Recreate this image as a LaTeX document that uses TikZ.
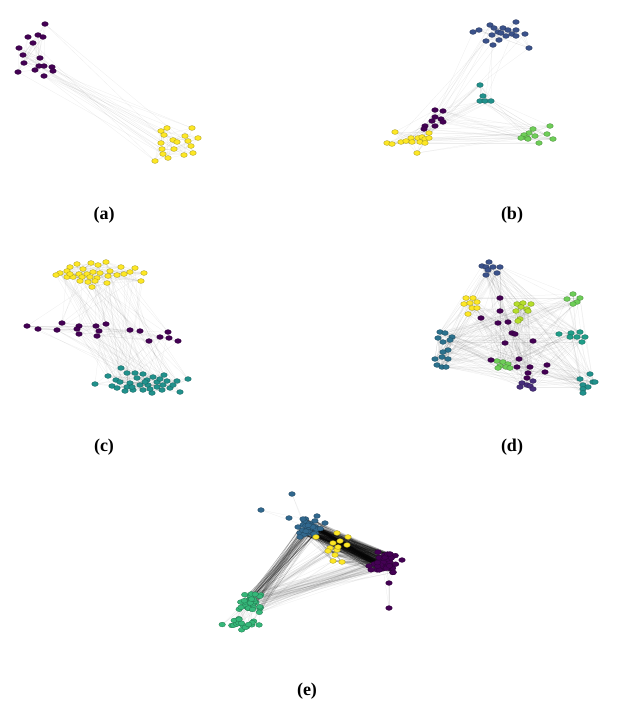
\documentclass[tikz,border=0pt]{standalone}
\usepackage{fontspec}
\setmainfont{Liberation Serif}
\definecolor{vpur}{HTML}{440154}
\definecolor{vind}{HTML}{472D7B}
\definecolor{vblu}{HTML}{3B528B}
\definecolor{vsteel}{HTML}{31688E}
\definecolor{vtealdk}{HTML}{2C728E}
\definecolor{vteal}{HTML}{21918C}
\definecolor{vteal2}{HTML}{1F9E89}
\definecolor{vgrn}{HTML}{35B779}
\definecolor{vgrn2}{HTML}{6ECE58}
\definecolor{vlime}{HTML}{B5DE2B}
\definecolor{vyel}{HTML}{FDE725}
\tikzset{
  edge/.style={line width=0.25pt, draw=black, draw opacity=0.08},
  edgedk/.style={line width=0.25pt, draw=black, draw opacity=0.16},
  nd/.style={fill=#1, draw=#1!65!black, line width=0.3pt},
  lab/.style={font=\bfseries\fontsize{18}{20}\selectfont, inner sep=0pt}
}
\newcommand\setpts[2]{\foreach \x/\y [count=\i] in {#2} {\coordinate (#1-\i) at (\x,\y);}}
\newcommand\randpts[7]{\foreach \i in {#2,...,#3} {\pgfmathsetmacro\xx{#4+#6*(rand+rand)/2}\pgfmathsetmacro\yy{#5+#7*(rand+rand)/2}\coordinate (#1-\i) at (\xx,\yy);}}
\newcommand\drawpts[3]{\foreach \i in {1,...,#2} {\path[nd=#3] (#1-\i) ellipse[x radius=3.3pt, y radius=2.4pt];}}
\newcommand\links[6]{\foreach \i in {1,...,#2}{\foreach \j in {1,...,#4}{\pgfmathtruncatemacro\ok{rnd<#5}\ifnum\ok=1 \draw[#6] (#1-\i) -- (#3-\j);\fi}}}
\begin{document}
\begin{tikzpicture}[x=1pt,y=-1pt]
\pgfmathsetseed{4242}
\useasboundingbox (0,0) rectangle (621,713);
% ---------- (a)
\setpts{AP}{45/24, 28/37, 38/35, 43/37, 33/43, 19/48, 23/55, 40/58, 24/63, 18/72, 35/70, 39/66, 44/66, 52/67, 53/71, 44/76}
\setpts{AY}{167/128, 161/131, 164/135, 192/128, 185/136, 198/138, 173/140, 177/142, 188/141, 161/143, 191/146, 162/149, 174/149, 163/154, 168/158, 184/155, 193/153, 155/161}
% ---------- (b)
\setpts{BB}{516/22, 490/25, 494/28, 503/28, 508/30, 516/30, 473/32, 479/30, 498/32, 492/35, 501/33, 512/34, 525/34, 506/36, 516/36, 486/41, 499/40, 493/45, 529/48}
\setpts{BT}{480/85, 483/96, 480/101, 485/101, 491/101}
\setpts{BP}{435/110, 443/111, 435/117, 441/119, 432/121, 443/122, 425/126, 424/129, 435/126}
\setpts{BY}{395/132, 387/143, 392/144, 401/142, 406/141, 411/138, 412/142, 418/138, 422/137, 429/133, 425/139, 429/138, 420/142, 425/143, 417/153}
\setpts{BG}{533/129, 550/126, 529/133, 524/135, 535/136, 547/134, 527/138, 521/138, 528/139, 553/139, 539/143}
% ---------- (c)
\setpts{CY}{77/264, 91/263, 98/265, 106/262, 70/267, 83/269, 121/267, 135/268, 60/273, 56/275, 67/271, 79/274, 87/274, 93/272, 100/273, 110/271, 117/275, 124/274, 130/272, 144/273, 67/277, 73/277, 82/277, 90/277, 97/278, 108/276, 88/282, 95/281, 92/287, 107/283, 141/281, 80/281, 70/274}
\setpts{CP}{27/326, 38/329, 62/323, 57/330, 79/326, 77/329, 79/334, 96/326, 99/331, 106/324, 97/336, 130/330, 140/331, 168/332, 149/341, 160/337, 169/338, 178/341}
\setpts{CT}{121/368, 108/376, 116/380, 127/373, 135/373, 143/374, 164/375, 188/379, 95/384, 112/386, 120/382, 130/383, 137/378, 147/380, 153/377, 157/382, 167/381, 177/381, 117/388, 127/387, 133/390, 143/390, 152/393, 162/390, 170/388, 180/392, 173/385, 148/385, 140/385, 132/387, 157/387, 163/385, 150/389, 145/382, 160/379, 125/391}
% ---------- (d)
\setpts{DB}{482/266, 489/262, 486/267, 493/267, 500/267, 488/270, 497/273, 486/275}
\setpts{DY}{466/298, 473/298, 464/304, 470/303, 477/302, 472/308, 477/308, 468/314}
\setpts{DL}{517/304, 523/303, 531/304, 521/307, 527/309, 516/311, 528/311, 520/319, 518/321}
\setpts{DG}{573/294, 567/299, 580/298, 577/302, 573/304}
\setpts{DT}{440/332, 445/333, 438/338, 452/337, 443/342, 450/340, 448/350, 443/352, 435/359, 442/357, 448/359, 437/365, 442/367, 446/367}
\setpts{DR}{559/334, 571/333, 580/332, 570/337, 577/337, 585/337, 582/342}
\setpts{DS}{580/379, 590/374, 593/382, 583/385, 588/387, 583/389, 583/393, 595/382}
\setpts{DM}{497/361, 503/362, 508/364, 500/366, 506/367, 498/368, 510/368}
\setpts{DP}{500/298, 500/311, 481/318, 498/323, 508/322, 512/333, 515/334, 505/343, 533/341, 491/360, 519/359, 517/367, 530/367, 547/365, 545/372, 528/373, 527/378}
\setpts{DI}{522/383, 527/385, 533/381, 520/387, 530/386, 533/389}
% ---------- (e)
\randpts{EP}{1}{45}{385}{563}{16}{13}
\setpts{EPo}{389/583, 389/608, 402/560, 369/566}
\randpts{EB}{1}{30}{310}{527}{12}{9}
\setpts{EBo}{292/494, 261/510, 289/518, 303/519, 317/516, 325/523, 298/527, 300/537}
\setpts{EY}{337/533, 348/537, 340/541, 333/543, 330/548, 337/550, 347/545, 335/555, 342/562, 333/561, 328/551, 338/547, 316/537}
\randpts{EG}{1}{35}{250}{603}{14}{10}
\randpts{EGs}{1}{20}{243}{624}{24}{11}
% ================= edges
% (a)
\links{AP}{16}{AP}{16}{0.18}{edge}
\links{AY}{18}{AY}{18}{0.15}{edge}
\links{AP}{16}{AY}{18}{0.06}{edge}
% (b)
\links{BB}{19}{BB}{19}{0.15}{edge}
\links{BP}{9}{BP}{9}{0.3}{edge}
\links{BY}{15}{BY}{15}{0.2}{edge}
\links{BG}{11}{BG}{11}{0.25}{edge}
\links{BT}{5}{BT}{5}{0.4}{edge}
\links{BB}{19}{BP}{9}{0.03}{edge}
\links{BB}{19}{BY}{15}{0.015}{edge}
\links{BB}{19}{BT}{5}{0.05}{edge}
\links{BT}{5}{BP}{9}{0.2}{edge}
\links{BT}{5}{BG}{11}{0.2}{edge}
\links{BT}{5}{BY}{15}{0.05}{edge}
\links{BP}{9}{BG}{11}{0.1}{edge}
\links{BY}{15}{BG}{11}{0.07}{edge}
\links{BP}{9}{BY}{15}{0.15}{edge}
% (c)
\links{CY}{33}{CY}{33}{0.1}{edge}
\links{CP}{18}{CP}{18}{0.12}{edge}
\links{CT}{36}{CT}{36}{0.1}{edge}
\links{CY}{33}{CP}{18}{0.035}{edge}
\links{CY}{33}{CT}{36}{0.025}{edge}
\links{CP}{18}{CT}{36}{0.05}{edge}
% (d)
\foreach \A/\nA in {DB/8, DY/8, DL/9, DG/5, DT/14, DR/7, DS/8, DM/7, DP/17, DI/6}{
  \foreach \B/\nB in {DB/8, DY/8, DL/9, DG/5, DT/14, DR/7, DS/8, DM/7, DP/17, DI/6}{
    \links{\A}{\nA}{\B}{\nB}{0.055}{edge}}}
\foreach \A/\nA in {DB/8, DY/8, DL/9, DG/5, DT/14, DR/7, DS/8, DM/7, DI/6}{
  \links{\A}{\nA}{\A}{\nA}{0.3}{edge}}
% (e)
\links{EP}{45}{EP}{45}{0.1}{edge}
\links{EB}{30}{EB}{30}{0.12}{edge}
\links{EG}{35}{EG}{35}{0.1}{edge}
\links{EGs}{20}{EG}{35}{0.06}{edge}
\links{EBo}{8}{EB}{30}{0.08}{edge}
\links{EPo}{4}{EP}{45}{0.05}{edge}
\draw[edge] (EPo-1) -- (EPo-2);
\links{EB}{30}{EP}{45}{0.35}{edgedk}
\links{EY}{13}{EP}{45}{0.35}{edgedk}
\links{EB}{30}{EY}{13}{0.2}{edgedk}
\links{EG}{35}{EB}{30}{0.1}{edgedk}
\links{EG}{35}{EP}{45}{0.05}{edge}
\links{EG}{35}{EY}{13}{0.06}{edge}
% ================= nodes
\drawpts{AP}{16}{vpur}\drawpts{AY}{18}{vyel}
\drawpts{BB}{19}{vblu}\drawpts{BT}{5}{vteal}\drawpts{BP}{9}{vpur}\drawpts{BY}{15}{vyel}\drawpts{BG}{11}{vgrn2}
\drawpts{CY}{33}{vyel}\drawpts{CP}{18}{vpur}\drawpts{CT}{36}{vteal}
\drawpts{DB}{8}{vblu}\drawpts{DY}{8}{vyel}\drawpts{DL}{9}{vlime}\drawpts{DG}{5}{vgrn2}
\drawpts{DT}{14}{vtealdk}\drawpts{DR}{7}{vteal2}\drawpts{DS}{8}{vteal}\drawpts{DM}{7}{vgrn2}
\drawpts{DP}{17}{vpur}\drawpts{DI}{6}{vind}
\drawpts{EG}{35}{vgrn}\drawpts{EGs}{20}{vgrn}
\drawpts{EB}{30}{vsteel}\drawpts{EBo}{8}{vsteel}
\drawpts{EP}{45}{vpur}\drawpts{EPo}{4}{vpur}
\drawpts{EY}{13}{vyel}
% ================= labels
\node[lab] (la) at (104,215) {(a)};
\node[lab] (lb) at (512,215) {(b)};
\node[lab] (lc) at (104,447) {(c)};
\node[lab] (ld) at (512,447) {(d)};
\node[lab] (le) at (307,691) {(e)};
\end{tikzpicture}
\end{document}
